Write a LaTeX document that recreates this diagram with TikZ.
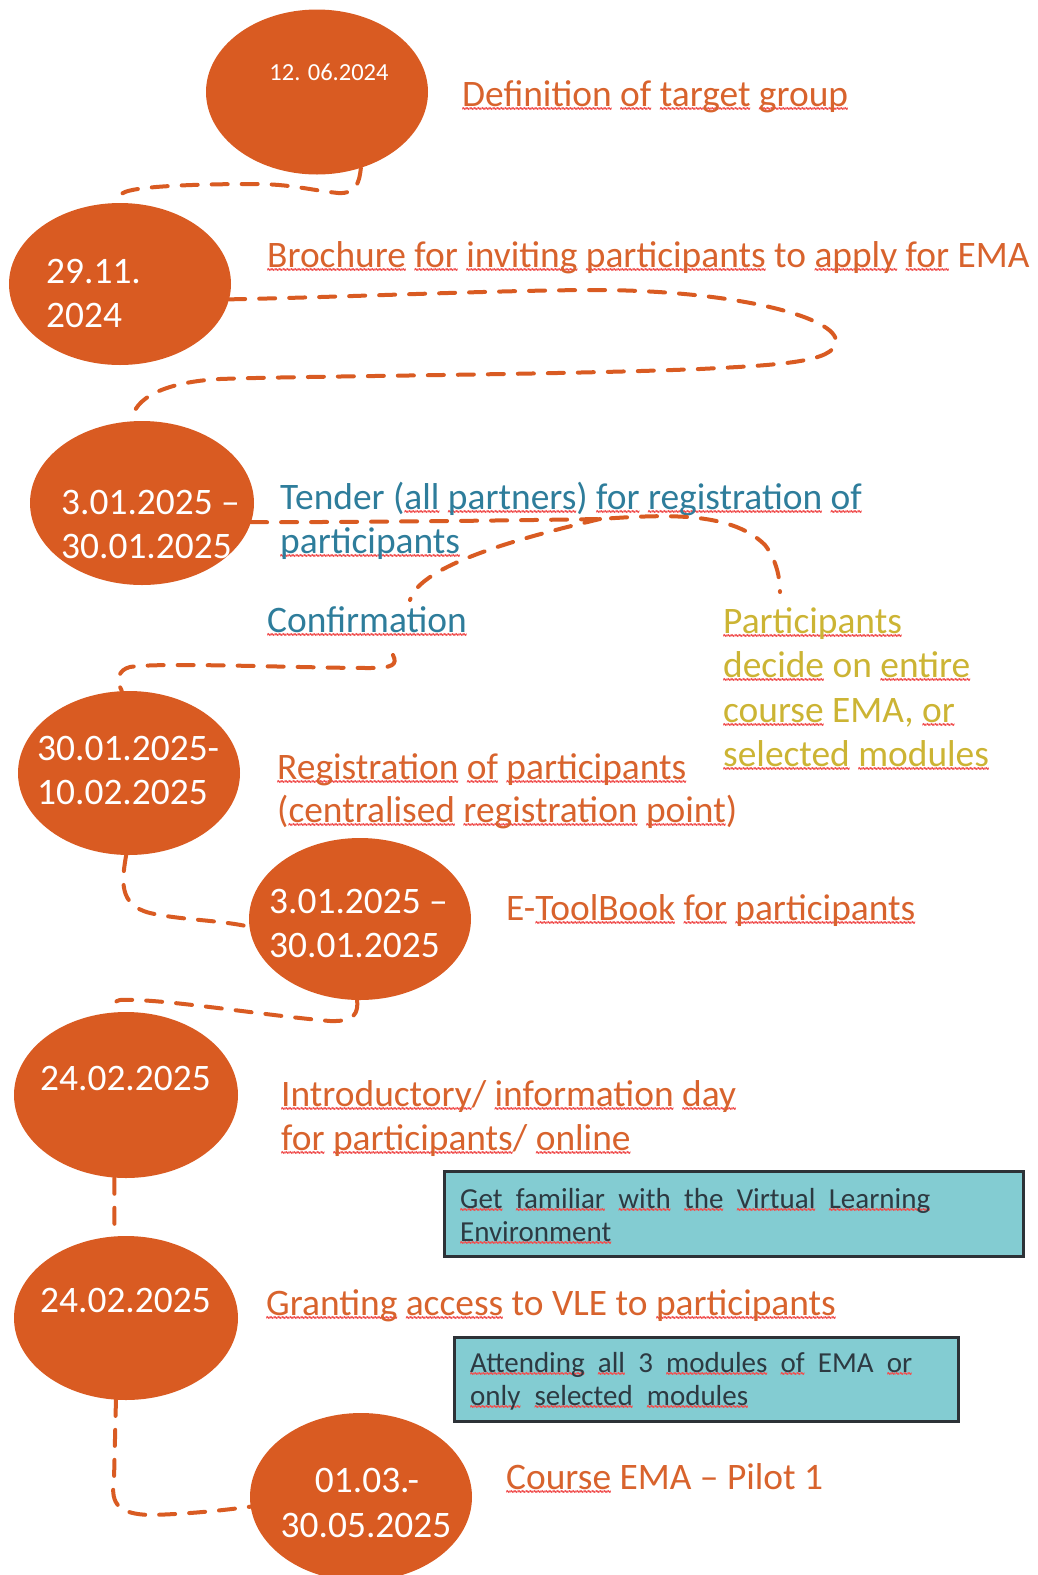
\documentclass[tikz,border=0pt]{standalone}
\usepackage{fontspec}
\setmainfont{Carlito}
\newfontfamily\wavefont{DejaVu Sans}
\usetikzlibrary{shapes.geometric}
\definecolor{eorange}{RGB}{217,91,34}
\definecolor{torange}{RGB}{216,99,45}
\definecolor{tblue}{RGB}{46,125,155}
\definecolor{tyellow}{RGB}{204,180,52}
\definecolor{boxfill}{RGB}{131,204,210}
\definecolor{boxline}{RGB}{45,50,55}
\definecolor{boxtext}{RGB}{45,58,66}
\definecolor{spellred}{RGB}{240,80,80}
\def\wavedrop{8pt}
\newsavebox\sqbox
\newcommand\wavepiece{\hbox{{\color{spellred}\kern-0.6pt\scalebox{0.75}[2.2]{\wavefont\bfseries\fontsize{8}{8}\selectfont\char`\~}\kern-0.6pt}}}
\newcommand\sq[1]{\sbox\sqbox{#1}\rlap{\lower\wavedrop\hbox to \wd\sqbox{\xleaders\wavepiece\hfill}}\usebox\sqbox}
\tikzset{
  dot/.style={ellipse, fill=eorange, draw=none, inner sep=0pt},
  lab/.style={anchor=base west, inner sep=0pt, text=torange, font=\fontsize{37.4}{44}\selectfont},
  bluelab/.style={lab, text=tblue},
  yellab/.style={lab, text=tyellow},
  datetxt/.style={anchor=base west, inner sep=0pt, text=white, font=\fontsize{37.4}{44}\selectfont},
  notebox/.style={rectangle, fill=boxfill, draw=boxline, line width=2.5pt, anchor=north west, inner sep=0pt},
  notetxt/.style={anchor=base west, inner sep=0pt, text=boxtext, font=\fontsize{29}{33}\selectfont\def\wavedrop{7pt}},
  dashline/.style={draw=eorange, line width=4pt, dash pattern=on 16pt off 14pt, line cap=round}
}
\begin{document}
\begin{tikzpicture}[x=1pt,y=-1pt]
\path[use as bounding box] (0,0) rectangle (1037,1575);
\clip (0,0) rectangle (1037,1575);

% ellipses
\node[dot, minimum width=222pt, minimum height=165pt] (e1) at (317,92) {};
\node[dot, minimum width=222pt, minimum height=162pt] (e2) at (120,284) {};
\node[dot, minimum width=224pt, minimum height=164pt] (e3) at (142,503) {};
\node[dot, minimum width=222pt, minimum height=164pt] (e4) at (129,773) {};
\node[dot, minimum width=222pt, minimum height=162pt] (e5) at (360,919) {};
\node[dot, minimum width=224pt, minimum height=166pt] (e6) at (126,1095) {};
\node[dot, minimum width=224pt, minimum height=164pt] (e7) at (126,1318) {};
\node[dot, minimum width=222pt, minimum height=168pt] (e8) at (361,1497) {};

% dates
\node[datetxt, anchor=base, font=\fontsize{24.5}{30}\selectfont] (d1) at (329,80) {12. 06.2024};
\node[datetxt] (d2a) at (46,283) {29.11.};
\node[datetxt] (d2b) at (46,327) {2024};
\node[datetxt] (d3a) at (61,514) {3.01.2025 –};
\node[datetxt] (d3b) at (61,558) {30.01.2025};
\node[datetxt] (d4a) at (37,760) {30.01.2025-};
\node[datetxt] (d4b) at (37,804) {10.02.2025};
\node[datetxt] (d5a) at (269,913) {3.01.2025 –};
\node[datetxt] (d5b) at (269,957) {30.01.2025};
\node[datetxt] (d6) at (40,1090) {24.02.2025};
\node[datetxt] (d7) at (40,1312) {24.02.2025};
\node[datetxt, anchor=base] (d8a) at (367,1492) {01.03.-};
\node[datetxt, anchor=base] (d8b) at (366,1537) {30.05.2025};

% labels
\node[lab] (l1) at (462,106) {\sq{Definition} \sq{of} \sq{target} \sq{group}};
\node[lab] (l2) at (267,267) {\sq{Brochure} \sq{for} \sq{inviting} \sq{participants} to \sq{apply} \sq{for} EMA};
\node[bluelab] (l3a) at (280,509) {Tender (\sq{all} \sq{partners}) \sq{for} \sq{registration} \sq{of}};
\node[bluelab] (l3b) at (280,553) {\sq{participants}};
\node[bluelab] (conf) at (267,632) {\sq{Confirmation}};
\node[yellab] (p1) at (723,633) {\sq{Participants}};
\node[yellab] (p2) at (723,677) {\sq{decide} on \sq{entire}};
\node[yellab] (p3) at (723,722) {\sq{course} EMA, \sq{or}};
\node[yellab] (p4) at (723,766) {\sq{selected} \sq{modules}};
\node[lab] (r1) at (277,779) {\sq{Registration} \sq{of} \sq{participants}};
\node[lab] (r2) at (277,822) {(\sq{centralised} \sq{registration} \sq{point})};
\node[lab] (et) at (506,920) {E-\sq{ToolBook} \sq{for} \sq{participants}};
\node[lab] (in1) at (281,1106) {\sq{Introductory}/ \sq{information} \sq{day}};
\node[lab] (in2) at (281,1150) {\sq{for} \sq{participants}/ \sq{online}};
\node[lab] (gr) at (266,1315) {\sq{Granting} \sq{access} to VLE to \sq{participants}};
\node[lab] (ce) at (506,1489) {\sq{Course} EMA – Pilot 1};

% note boxes
\node[notebox, minimum width=579pt, minimum height=85pt] (b1) at (443,1170) {};
\node[notetxt] (bt1a) at (460,1208) {\makebox[470pt][s]{\sq{Get} \sq{familiar} \sq{with} \sq{the} \sq{Virtual} \sq{Learning}}};
\node[notetxt] (bt1b) at (460,1241) {\sq{Environment}};
\node[notebox, minimum width=504pt, minimum height=84pt] (b2) at (453,1336) {};
\node[notetxt] (bt2a) at (470,1372) {\makebox[442pt][s]{\sq{Attending} \sq{all} 3 \sq{modules} \sq{of} EMA \sq{or}}};
\node[notetxt] (bt2b) at (470,1405) {\makebox[278pt][s]{\sq{only} \sq{selected} \sq{modules}}};

% free ends of connectors
\coordinate (j) at (600,519);
\coordinate (c1end) at (780,592);
\coordinate (cftop) at (410,600);
\coordinate (cfbot) at (393,655);

% connectors
\draw[dashline] (e1.-60) .. controls (359,185) and (355,194) .. (338,193)
  .. controls (310,190) and (290,184) .. (255,184)
  .. controls (200,184) and (140,186) .. (125,192)
  .. controls (120,194) and (118,197) .. (e2.93);
\draw[dashline] (e2.-8) .. controls (350,297) and (500,290) .. (600,290)
  .. controls (740,291) and (838,318) .. (836,342)
  .. controls (834,362) and (780,365) .. (700,369)
  .. controls (550,375) and (300,376) .. (220,379)
  .. controls (165,382) and (133,398) .. (e3.97);
\draw[dashline] (e3.-10) .. controls (400,522) and (540,520) .. (j)
  .. controls (660,515) and (730,510) .. (765,545)
  .. controls (775,558) and (780,575) .. (c1end);
\draw[dashline] (j) .. controls (520,538) and (420,565) .. (cftop);
\draw[dashline] (cfbot) .. controls (398,665) and (392,668) .. (370,668)
  .. controls (300,668) and (160,662) .. (130,667)
  .. controls (118,670) and (116,680) .. (e4.95);
\draw[dashline] (e4.-92) .. controls (122,880) and (118,905) .. (150,913)
  .. controls (180,920) and (220,920) .. (e5.-176);
\draw[dashline] (e5.-92) .. controls (358,1012) and (356,1022) .. (330,1021)
  .. controls (260,1015) and (160,998) .. (120,1000)
  .. controls (112,1002) and (110,1008) .. (e6.100);
\draw[dashline] (e6.-98) -- (e7.98);
\draw[dashline] (e7.-97) -- (114,1480)
  .. controls (110,1505) and (120,1514) .. (150,1515)
  .. controls (190,1514) and (225,1510) .. (e8.-175);
\end{tikzpicture}
\end{document}
